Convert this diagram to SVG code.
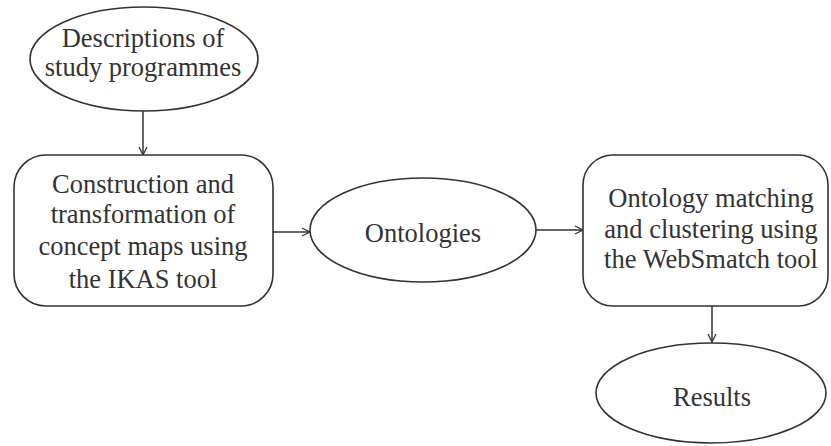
<svg xmlns="http://www.w3.org/2000/svg" width="831" height="446" viewBox="0 0 831 446">
<defs>
<style>
.shape{fill:#fff;stroke:#333;stroke-width:1.6}
.lbl{font-family:"Liberation Serif","Times New Roman",serif;font-size:26.5px;fill:#333;text-anchor:middle}
.conn{stroke:#333;stroke-width:1.5;fill:none}
</style>
<marker id="arr" viewBox="0 0 10 10" refX="9" refY="5" markerWidth="10" markerHeight="10" markerUnits="userSpaceOnUse" orient="auto">
<path d="M1,1 L9,5 L1,9" fill="none" stroke="#333" stroke-width="1.3"/>
</marker>
</defs>
<rect width="831" height="446" fill="#fff"/>
<g id="connectors">
<line class="conn" x1="143" y1="110" x2="143" y2="155" marker-end="url(#arr)"/>
<line class="conn" x1="273" y1="232" x2="310" y2="232" marker-end="url(#arr)"/>
<line class="conn" x1="536" y1="230" x2="583" y2="230" marker-end="url(#arr)"/>
<line class="conn" x1="712" y1="306" x2="712" y2="342" marker-end="url(#arr)"/>
</g>
<g id="descriptions">
<ellipse class="shape" cx="144" cy="59" rx="114" ry="52"/>
<text class="lbl" x="143" y="47">Descriptions of</text>
<text class="lbl" x="143" y="76">study programmes</text>
</g>
<g id="construction">
<rect class="shape" x="14" y="155" width="259" height="151" rx="32" ry="32"/>
<text class="lbl" x="143" y="193">Construction and</text>
<text class="lbl" x="143" y="223">transformation of</text>
<text class="lbl" x="143" y="255">concept maps using</text>
<text class="lbl" x="143" y="288">the IKAS tool</text>
</g>
<g id="ontologies">
<ellipse class="shape" cx="423" cy="230" rx="113" ry="52"/>
<text class="lbl" x="423" y="242">Ontologies</text>
</g>
<g id="matching">
<rect class="shape" x="583" y="155" width="245" height="151" rx="30" ry="30"/>
<text class="lbl" x="711" y="207">Ontology matching</text>
<text class="lbl" x="711" y="238">and clustering using</text>
<text class="lbl" x="711" y="268">the WebSmatch tool</text>
</g>
<g id="results">
<ellipse class="shape" cx="711" cy="393" rx="115" ry="50"/>
<text class="lbl" x="712" y="406">Results</text>
</g>
</svg>
